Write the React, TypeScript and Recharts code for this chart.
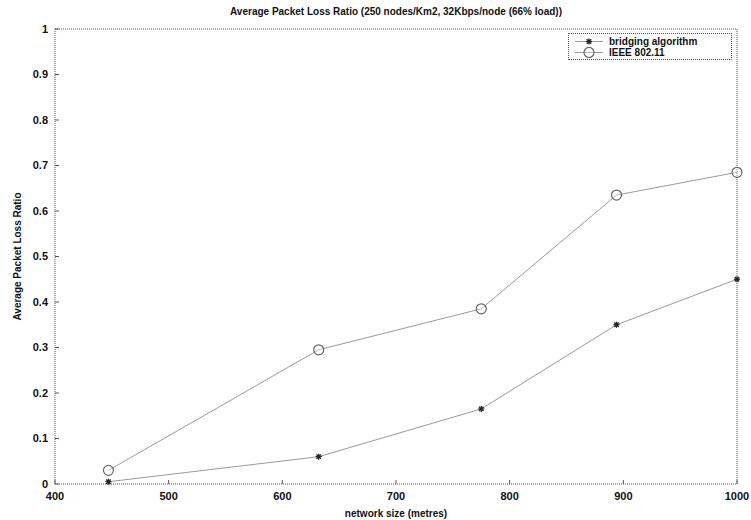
import React from 'react';
import { LineChart, Line, XAxis, YAxis, Legend } from 'recharts';

const networkSizes = [447, 632, 775, 894, 1000];
const bridgingLoss = [0.005, 0.06, 0.165, 0.35, 0.45];
const ieeeLoss = [0.03, 0.295, 0.385, 0.635, 0.685];
const xTicks = [400, 500, 600, 700, 800, 900, 1000];
const yTicks = [0, 0.1, 0.2, 0.3, 0.4, 0.5, 0.6, 0.7, 0.8, 0.9, 1];

const data = networkSizes.map((s, i) => ({ size: s, bridging: bridgingLoss[i], ieee: ieeeLoss[i] }));

const FONT = '"Liberation Sans", Arial, sans-serif';
const AXIS = '#555';
const LINE = '#9a9a9a';

const StarDot = (props: any) => {
  const { cx, cy } = props;
  if (cx == null || cy == null) return null;
  const r = 3;
  return (
    <g stroke="#222" strokeWidth={1.3}>
      <line x1={cx - r} y1={cy} x2={cx + r} y2={cy} />
      <line x1={cx} y1={cy - r} x2={cx} y2={cy + r} />
      <line x1={cx - 2.2} y1={cy - 2.2} x2={cx + 2.2} y2={cy + 2.2} />
      <line x1={cx - 2.2} y1={cy + 2.2} x2={cx + 2.2} y2={cy - 2.2} />
    </g>
  );
};

const CircleDot = (props: any) => {
  const { cx, cy } = props;
  if (cx == null || cy == null) return null;
  return <circle cx={cx} cy={cy} r={5} fill="#fff" fillOpacity={0.3} stroke="#666" strokeWidth={1.2} />;
};

const LegendBox = () => (
  <div
    style={{
      width: 164,
      height: 27,
      border: `1px dotted ${AXIS}`,
      background: '#fff',
      fontFamily: FONT,
      fontSize: 10,
      fontWeight: 'bold',
      color: '#111',
      boxSizing: 'border-box',
      paddingTop: 2,
    }}
  >
    {[
      { label: 'bridging algorithm', dot: 'star' },
      { label: 'IEEE 802.11', dot: 'circle' },
    ].map((e) => (
      <div key={e.label} style={{ display: 'flex', alignItems: 'center', height: 11 }}>
        <svg width={40} height={11}>
          <line x1={6} y1={5.5} x2={34} y2={5.5} stroke={LINE} strokeWidth={1} />
          {e.dot === 'star' ? <StarDot cx={20} cy={5.5} /> : <CircleDot cx={20} cy={5.5} />}
        </svg>
        <span style={{ lineHeight: '11px' }}>{e.label}</span>
      </div>
    ))}
  </div>
);

export default function App() {
  return (
    <div style={{ position: 'absolute', left: 0, top: 0, width: 751, height: 520, background: '#fff' }}>
      <div
        style={{
          position: 'absolute',
          left: 55,
          width: 682,
          top: 6,
          textAlign: 'center',
          fontFamily: FONT,
          fontSize: 10,
          fontWeight: 'bold',
          color: '#111',
        }}
      >
        Average Packet Loss Ratio (250 nodes/Km2, 32Kbps/node (66% load))
      </div>
      <LineChart width={751} height={520} data={data} margin={{ top: 0, right: 0, bottom: 0, left: 0 }}>
        <XAxis
          dataKey="size"
          type="number"
          domain={[400, 1000]}
          ticks={xTicks}
          height={36}
          stroke={AXIS}
          axisLine={{ stroke: AXIS, strokeDasharray: '1 1' }}
          tickLine={{ stroke: AXIS }}
          tickSize={-4}
          tickMargin={12}
          tick={{ fill: '#111', fontFamily: FONT, fontSize: 11, fontWeight: 'bold' }}
          label={{ value: 'network size (metres)', position: 'insideBottom', offset: 3, style: { fontFamily: FONT, fontSize: 10, fontWeight: 'bold', fill: '#111' } }}
        />
        <XAxis
          xAxisId="top"
          orientation="top"
          type="number"
          domain={[400, 1000]}
          ticks={xTicks}
          height={29}
          axisLine={{ stroke: AXIS, strokeDasharray: '1 1' }}
          tickLine={{ stroke: AXIS }}
          tickSize={-4}
          tickFormatter={() => ''}
        />
        <YAxis
          type="number"
          domain={[0, 1]}
          ticks={yTicks}
          width={55}
          interval={0}
          axisLine={{ stroke: AXIS, strokeDasharray: '1 1' }}
          tickLine={{ stroke: AXIS }}
          tickSize={-4}
          tickMargin={11}
          tick={{ fill: '#111', fontFamily: FONT, fontSize: 11, fontWeight: 'bold' }}
          label={{ value: 'Average Packet Loss Ratio', angle: -90, position: 'insideLeft', offset: 17, style: { textAnchor: 'middle', fontFamily: FONT, fontSize: 10, fontWeight: 'bold', fill: '#111' } }}
        />
        <YAxis
          yAxisId="right"
          orientation="right"
          type="number"
          domain={[0, 1]}
          ticks={yTicks}
          width={14}
          interval={0}
          axisLine={{ stroke: AXIS, strokeDasharray: '1 1' }}
          tickLine={{ stroke: AXIS }}
          tickSize={-4}
          tickFormatter={() => ''}
        />
        <Legend
          layout="vertical"
          verticalAlign="middle"
          align="center"
          content={() => <LegendBox />}
          wrapperStyle={{ position: 'absolute', left: 568, top: 33, width: 164 }}
        />
        <Line
          dataKey="bridging"
          name="bridging algorithm"
          stroke={LINE}
          strokeWidth={1}
          dot={<StarDot />}
          isAnimationActive={false}
        />
        <Line
          dataKey="ieee"
          name="IEEE 802.11"
          stroke={LINE}
          strokeWidth={1}
          dot={<CircleDot />}
          isAnimationActive={false}
        />
      </LineChart>
    </div>
  );
}
